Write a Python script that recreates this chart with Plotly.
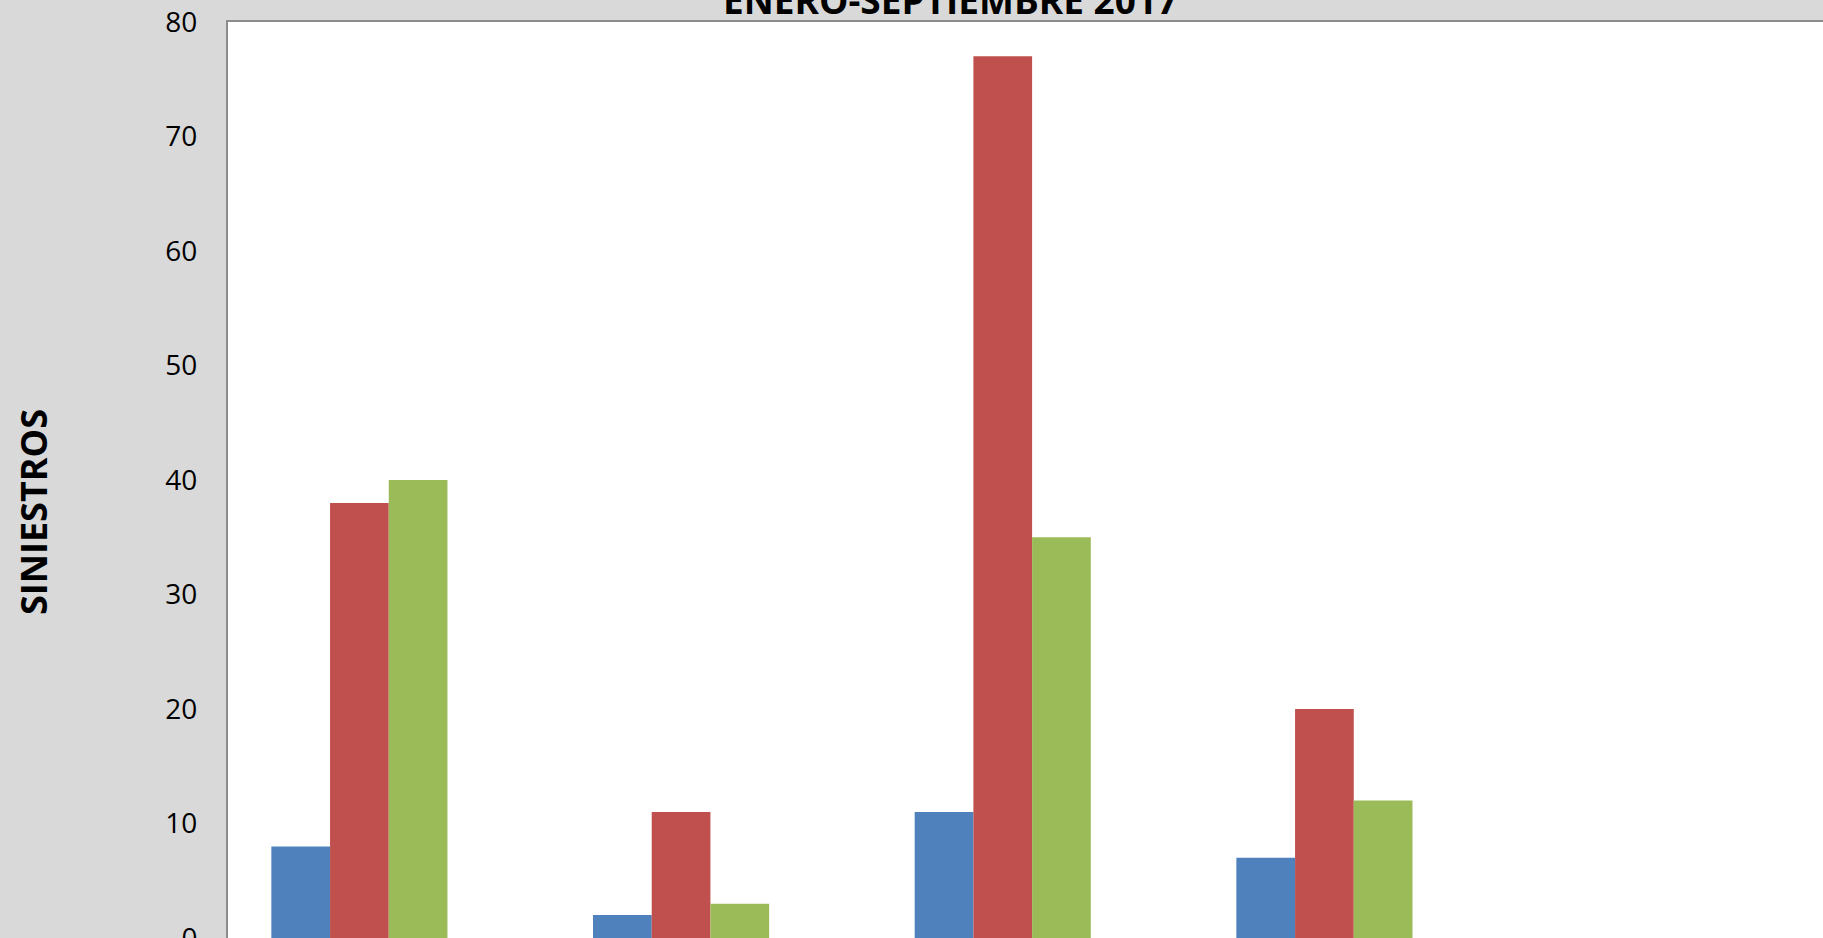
import plotly.graph_objects as go

categories = ["Grupo 1", "Grupo 2", "Grupo 3", "Grupo 4"]
series_names = ["Serie 1", "Serie 2", "Serie 3"]
serie_azul = [8, 2, 11, 7]
serie_roja = [38, 11, 77, 20]
serie_verde = [40, 3, 35, 12]
colors = ["#4f81bd", "#c0504d", "#9bbb59"]
y_ticks = [0, 10, 20, 30, 40, 50, 60, 70, 80]

fig = go.Figure()
for name, vals, col in zip(series_names, [serie_azul, serie_roja, serie_verde], colors):
    fig.add_trace(go.Bar(x=categories, y=vals, name=name, marker=dict(color=col, line=dict(width=0))))

W, H = 1823, 938
fig.update_layout(
    width=W, height=H,
    barmode="group", bargap=0.4525, bargroupgap=0,
    paper_bgcolor="#d9d9d9", plot_bgcolor="#ffffff",
    margin=dict(l=228, r=0, t=22, b=0, pad=0, autoexpand=False),
    showlegend=False,
    font=dict(family="Open Sans", color="#000000"),
    xaxis=dict(type="category", range=[-0.4085, 4.55], showticklabels=False, ticks="", side="top",
               showgrid=False, showline=True, linecolor="#8c8c8c", linewidth=2, mirror=False,
               zeroline=False, automargin=False),
    yaxis=dict(range=[0, 80], tickvals=y_ticks, ticktext=[str(v) for v in y_ticks],
               tickfont=dict(size=28, family="Open Sans"), ticks="", ticklabelstandoff=23,
               ticklabeloverflow="allow", automargin=False,
               showgrid=False, showline=True, linecolor="#8c8c8c", linewidth=2, mirror=False,
               zeroline=False),
    annotations=[
        dict(text="<b>SINIESTROS</b>", xref="paper", yref="paper", x=(33 - 228) / 1595, y=(938 - 512) / 916,
             xanchor="center", yanchor="middle", textangle=-90, showarrow=False,
             font=dict(size=36, family="Open Sans")),
        dict(text="<b>ENERO-SEPTIEMBRE 2017</b>", xref="paper", yref="paper", x=(950 - 228) / 1595, y=1.0,
             xanchor="center", yanchor="bottom", yshift=-5, showarrow=False,
             font=dict(size=37, family="Open Sans")),
    ],
)
fig.write_html(
    "out.html",
    config={"displayModeBar": False},
    post_script="document.body.style.margin='0';document.body.style.overflow='hidden';",
)
